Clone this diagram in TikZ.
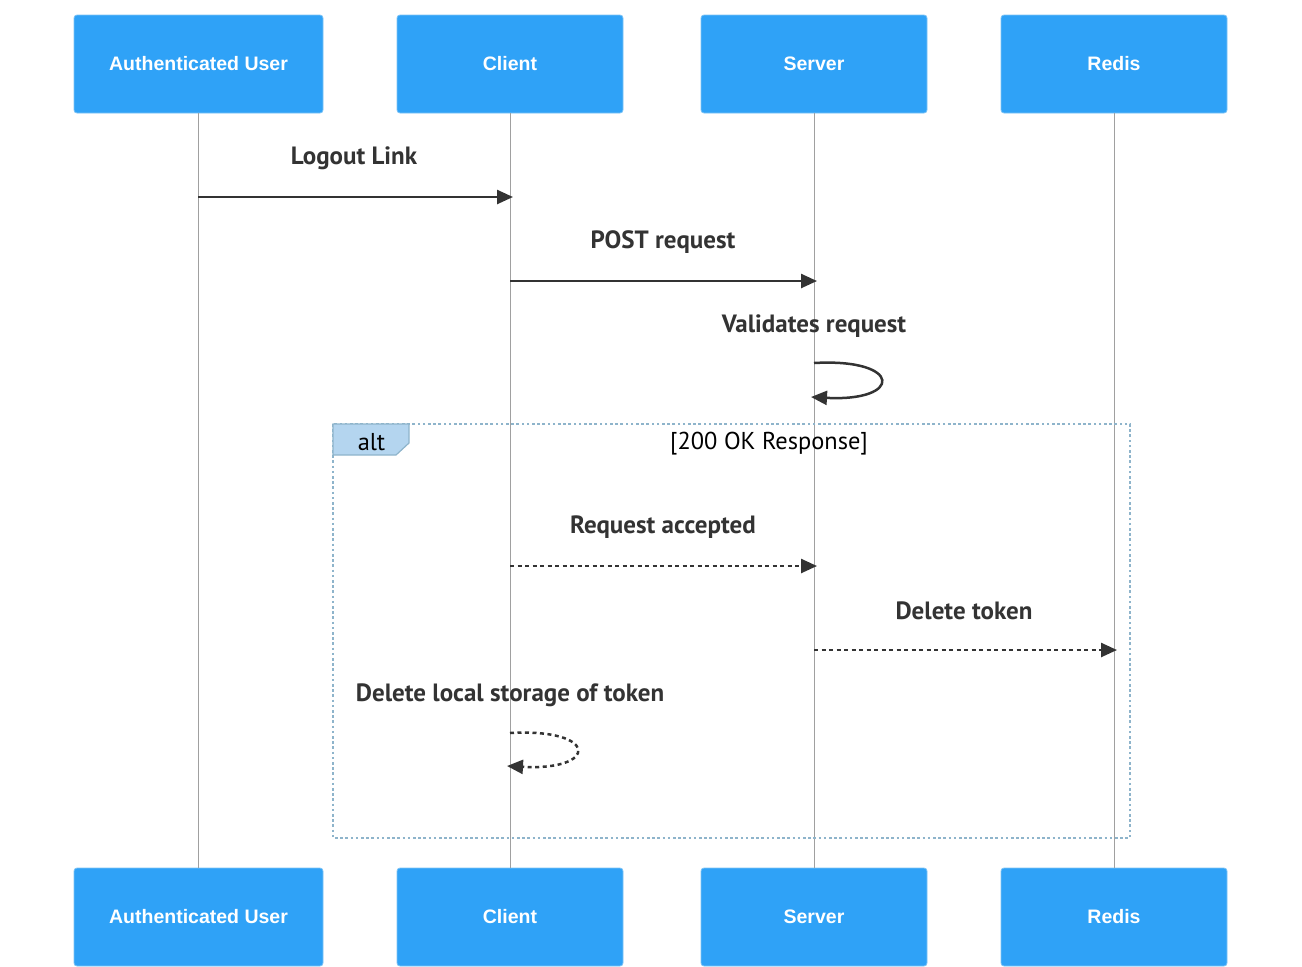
\documentclass[tikz,border=0pt]{standalone}
\usepackage{fontspec}
\setmainfont{PT Sans}
\newfontfamily\boxfont{Liberation Sans}
\usetikzlibrary{arrows.meta}
\definecolor{boxblue}{HTML}{2FA2F7}
\definecolor{boxedge}{HTML}{7CC3F5}
\definecolor{lifegrey}{HTML}{A0A0A0}
\definecolor{msgdark}{HTML}{333333}
\definecolor{altedge}{HTML}{8EB4CB}
\definecolor{altfill}{HTML}{B4D5EF}
\tikzset{
  actor/.style={rectangle, rounded corners=3pt, fill=boxblue, draw=boxedge, line width=0.8pt,
    minimum height=98pt, text=white, font=\boxfont\fontsize{19.5}{23}\selectfont\bfseries, inner sep=0pt},
  lifeline/.style={draw=lifegrey, line width=1pt},
  msg/.style={draw=msgdark, line width=2.5pt, -{Triangle[length=16pt,width=14pt]}, color=msgdark},
  dmsg/.style={msg, dash pattern=on 4pt off 3.5pt},
  msglabel/.style={font=\fontsize{25}{29}\selectfont\bfseries, text=msgdark, inner sep=0pt},
  altbox/.style={draw=altedge, line width=2.8pt, dash pattern=on 2.6pt off 2.6pt},
  alttab/.style={fill=altfill, draw=altedge, line width=1.2pt},
  altfont/.style={font=\fontsize{24.4}{28}\selectfont, text=black, inner sep=0pt},
}
\begin{document}
\begin{tikzpicture}[x=1pt,y=-1pt]
\useasboundingbox (0,0) rectangle (1302,967);
% lifeline x: 198, 510, 814, 1114
\node[actor, minimum width=249pt] (au) at (198.5,64) {Authenticated User};
\node[actor, minimum width=226pt] (cl) at (510,64) {Client};
\node[actor, minimum width=226pt] (sv) at (814,64) {Server};
\node[actor, minimum width=226pt] (rd) at (1114,64) {Redis};
\node[actor, minimum width=249pt] (au2) at (198.5,917) {Authenticated User};
\node[actor, minimum width=226pt] (cl2) at (510,917) {Client};
\node[actor, minimum width=226pt] (sv2) at (814,917) {Server};
\node[actor, minimum width=226pt] (rd2) at (1114,917) {Redis};
\draw[lifeline] (au.south) -- (au2.north);
\draw[lifeline] (cl.south) -- (cl2.north);
\draw[lifeline] (sv.south) -- (sv2.north);
\draw[lifeline] (rd.south) -- (rd2.north);
% alt frame
\draw[altbox] (333,424) rectangle (1130,838);
\draw[alttab] (333,424) -- (409,424) -- (409,443) -- (396,455) -- (333,455) -- cycle;
\node[altfont] (altl) at (371.5,442) {alt};
\node[altfont] (cond) at (769,444) {[200 OK Response]};
% coordinates on lifelines
\coordinate (m1s) at (198,197); \coordinate (m1e) at (513,197);
\coordinate (m2s) at (510,281); \coordinate (m2e) at (817,281);
\coordinate (l1s) at (814,363); \coordinate (l1e) at (811,397);
\coordinate (m3s) at (510,566); \coordinate (m3e) at (817,566);
\coordinate (m4s) at (814,650); \coordinate (m4e) at (1117,650);
\coordinate (l2s) at (510,733); \coordinate (l2e) at (507,766);
% messages
\node[msglabel] (t1) at (354,158) {Logout Link};
\draw[msg] (m1s) -- (m1e);
\node[msglabel] (t2) at (663,242) {POST request};
\draw[msg] (m2s) -- (m2e);
\node[msglabel] (t3) at (814,326) {Validates request};
\draw[msg] (l1s) .. controls (903,358) and (903,402) .. (l1e);
\node[msglabel] (t4) at (663,527) {Request accepted};
\draw[dmsg] (m3s) -- (m3e);
\node[msglabel] (t5) at (964,611) {Delete token};
\draw[dmsg] (m4s) -- (m4e);
\node[msglabel] (t6) at (510,695) {Delete local storage of token};
\draw[dmsg] (l2s) .. controls (599,728) and (599,771) .. (l2e);
\end{tikzpicture}
\end{document}
